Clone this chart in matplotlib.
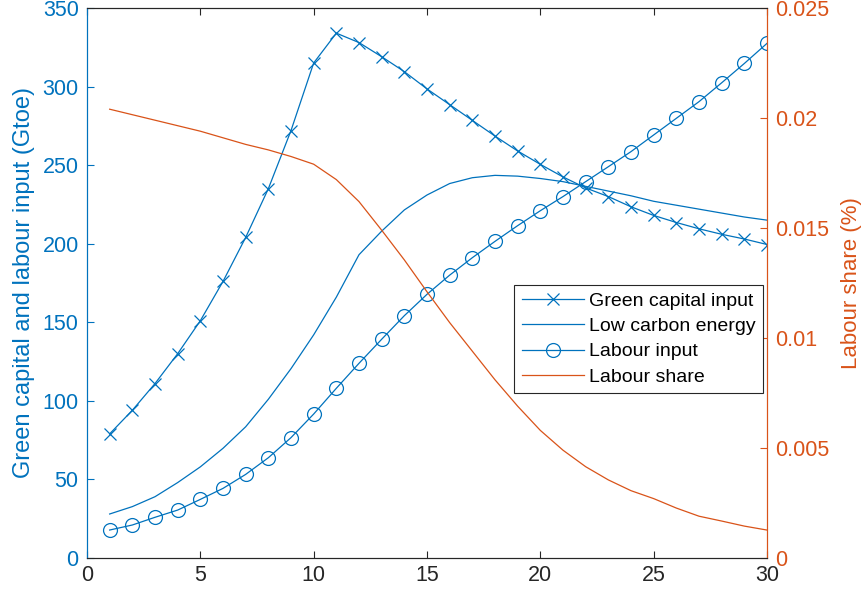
import matplotlib
matplotlib.use("Agg")
import matplotlib.pyplot as plt

plt.rcParams['font.family'] = ['Liberation Sans', 'DejaVu Sans']

years = list(range(1, 31))

green_capital = [79, 94, 111, 130, 151, 176, 204, 235, 272, 315,
                 334, 328, 319, 309.5, 298.5, 288.5, 278.5, 268.5, 259, 250.5,
                 242.5, 235.5, 230, 223.5, 218, 213.5, 209.5, 206, 203, 199.5]

low_carbon = [28, 32.7, 39, 48, 58, 69.8, 83.5, 101, 120.5, 142,
              166, 193, 208, 221.5, 231, 238.3, 242, 243.5, 243, 241.5,
              239.5, 236.5, 233.5, 230.5, 227, 224.5, 222, 219.5, 217, 215]

labour_input = [17.8, 21, 25.9, 30.5, 37.3, 44.3, 53.2, 63.8, 76.6, 91.6,
                108, 123.9, 139.2, 154.2, 167.8, 180, 191.1, 201.5, 211.5, 221,
                230, 239.5, 249, 258.6, 269.2, 279.8, 290.4, 302.4, 314.7, 327.5]

labour_share = [0.0204, 0.02015, 0.0199, 0.01965, 0.0194, 0.0191, 0.0188, 0.01855, 0.01825, 0.0179,
                0.0172, 0.0162, 0.0149, 0.01355, 0.0121, 0.0107, 0.0094, 0.0081, 0.0069, 0.0058,
                0.0049, 0.00415, 0.00355, 0.00306, 0.0027, 0.00227, 0.0019, 0.00168, 0.00145, 0.00127]

x_ticks = [0, 5, 10, 15, 20, 25, 30]
left_ticks = [0, 50, 100, 150, 200, 250, 300, 350]
right_ticks = [0, 0.005, 0.01, 0.015, 0.02, 0.025]
right_ticklabels = ['0', '0.005', '0.01', '0.015', '0.02', '0.025']

blue = '#0072BD'
orange = '#D95319'
grey = '#262626'
fs = 15.5

fig = plt.figure(figsize=(8.65, 5.99), dpi=100)
ax = fig.add_axes([87 / 865, 41 / 599, 680 / 865, 550 / 599])
ax2 = ax.twinx()

lw = 0.9
h1, = ax.plot(years, green_capital, color=blue, lw=lw, marker='x', ms=8.5, mew=0.9,
              label='Green capital input')
h2, = ax.plot(years, low_carbon, color=blue, lw=lw, label='Low carbon energy')
h3, = ax.plot(years, labour_input, color=blue, lw=lw, marker='o', ms=10, mfc='none',
              mew=0.9, label='Labour input')
h4, = ax2.plot(years, labour_share, color=orange, lw=lw, label='Labour share')

ax.set_xlim(0, 30)
ax.set_ylim(0, 350)
ax2.set_ylim(0, 0.025)
ax.set_xticks(x_ticks)
ax.set_yticks(left_ticks)
ax2.set_yticks(right_ticks)
ax2.set_yticklabels(right_ticklabels)

ax.tick_params(axis='x', direction='in', top=True, colors=grey, labelsize=fs, length=5, pad=5)
ax.tick_params(axis='y', direction='in', colors=blue, labelsize=fs, length=5, pad=6)
ax2.tick_params(axis='y', direction='in', colors=orange, labelsize=fs, length=5, pad=6)
ax2.tick_params(axis='x', top=False, bottom=False)

for a in (ax, ax2):
    a.spines['top'].set_color(grey)
    a.spines['bottom'].set_color(grey)
    a.spines['left'].set_color(blue)
    a.spines['right'].set_color(orange)
    for s in a.spines.values():
        s.set_linewidth(0.8)

ax.set_ylabel('Green capital and labour input (Gtoe)', color=blue, fontsize=17, labelpad=5)
ax2.set_ylabel('Labour share (%)', color=orange, fontsize=16, labelpad=8)

leg = ax2.legend([h1, h2, h3, h4], [h.get_label() for h in (h1, h2, h3, h4)],
                 loc='upper right', bbox_to_anchor=(0.9937, 0.4969), fontsize=14,
                 frameon=True, fancybox=False, framealpha=1, edgecolor=grey,
                 handlelength=3.2, handletextpad=0.25, borderaxespad=0,
                 labelspacing=0.4, borderpad=0.38)
leg.get_frame().set_linewidth(0.8)

fig.savefig('out.png', dpi=100)
